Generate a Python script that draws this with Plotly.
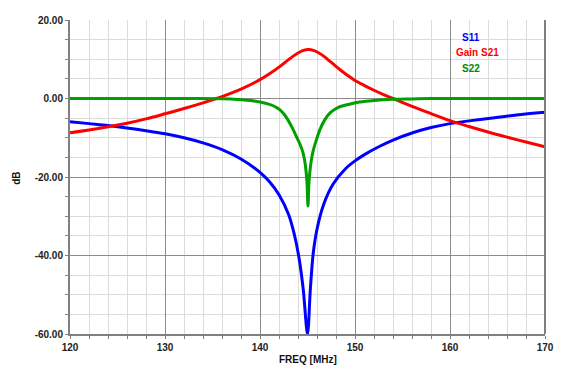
import plotly.graph_objects as go

# ---- data ----
freq_s11 = [120, 122, 124, 126, 128, 130, 132, 134, 136, 138, 140, 141, 142, 143, 143.6,
            144.1, 144.55, 145.0, 145.3, 145.6, 146.0, 146.7, 147.7, 149, 150, 151, 152.5,
            154, 156, 158, 160, 162, 164.7, 167, 170]
s11 = [-5.9, -6.4, -6.9, -7.5, -8.2, -9.0, -10.0, -11.3, -13.0, -15.4, -18.8, -21.2, -24.5,
       -29.5, -34.5, -40.5, -48.6, -60.0, -48.6, -39.5, -33.3, -27.0, -21.8, -17.9, -15.9,
       -14.3, -12.3, -10.6, -8.8, -7.4, -6.4, -5.7, -4.9, -4.2, -3.5]

freq_s21 = [120, 122, 124, 126, 128, 130, 132, 134, 135.4, 136, 138, 140, 141, 142, 143,
            143.5, 144, 144.5, 145.1, 145.7, 146.2, 146.7, 147.2, 147.7, 148.5, 149.2, 150,
            151, 152, 153, 154, 156, 158, 160, 162, 164, 166, 168, 170]
s21 = [-8.7, -8.0, -7.2, -6.3, -5.2, -3.9, -2.55, -1.1, 0.0, 0.5, 2.4, 4.8, 6.3, 8.0, 9.9,
       10.8, 11.6, 12.2, 12.5, 12.2, 11.6, 10.8, 9.8, 8.8, 7.2, 5.9, 4.6,
       3.3, 2.1, 1.0, 0.0, -2.0, -3.85, -5.65, -7.15, -8.55, -9.85, -11.1, -12.3]

freq_s22 = [120, 126, 132, 136, 138, 139, 140, 141, 141.6, 142.1, 142.6, 143.0, 143.4,
            143.8, 144.2, 144.5, 144.7, 144.85, 144.95, 145.05, 145.15, 145.25, 145.4,
            145.6, 145.9, 146.3, 146.8, 147.4, 148.3, 149.5, 150.5, 152, 154, 156, 158,
            164, 170]
s22 = [0, 0, 0, -0.05, -0.3, -0.5, -0.9, -1.5, -2.1, -2.9, -4.2, -5.7, -7.5,
       -9.5, -11.6, -13.6, -15.8, -18.6, -21.5, -27.4, -21.5, -18.6, -15.8,
       -13.3, -10.8, -8.0, -5.5, -3.6, -2.2, -1.4, -0.9, -0.5, -0.2, -0.1, 0,
       0, 0]

series_names = ["S11", "Gain S21", "S22"]
series_colors = ["#0000ff", "#ff0000", "#00a000"]
label_colors = ["#0000ff", "#ff0000", "#008a00"]

x_tickvals = [120, 130, 140, 150, 160, 170]
x_ticktext = ["120", "130", "140", "150", "160", "170"]
y_tickvals = [-60, -40, -20, 0, 20]
y_ticktext = ["-60.00", "-40.00", "-20.00", "0.00", "20.00"]

FONT = "Liberation Sans"
PAGE_OFFSET = 8  # default body margin of the html page

fig = go.Figure()
for fx, fy, name, col in zip([freq_s11, freq_s21, freq_s22], [s11, s21, s22],
                             series_names, series_colors):
    fig.add_trace(go.Scatter(x=fx, y=fy, mode="lines", name=name,
                             line=dict(color=col, width=3, shape="spline", smoothing=0.9)))

axis_font = dict(family=FONT, size=10, color="#222222", weight="bold")

fig.update_layout(
    width=564 - 2 * PAGE_OFFSET, height=379 - 2 * PAGE_OFFSET,
    margin=dict(l=70 - PAGE_OFFSET, r=19 - PAGE_OFFSET, t=20 - PAGE_OFFSET,
                b=45 - PAGE_OFFSET, pad=0, autoexpand=False),
    paper_bgcolor="#ffffff", plot_bgcolor="#ffffff",
    showlegend=False,
    xaxis=dict(
        range=[120, 170], tickvals=x_tickvals, ticktext=x_ticktext,
        showgrid=True, gridcolor="#8c8c8c", gridwidth=1, automargin=False,
        minor=dict(dtick=2, tick0=120, showgrid=True, gridcolor="#dcdcdc",
                   ticks="outside", ticklen=3, tickcolor="#808080"),
        ticks="outside", ticklen=3, tickcolor="#808080",
        showline=True, linecolor="#808080", linewidth=2,
        zeroline=False, tickfont=axis_font,
    ),
    yaxis=dict(
        range=[-60, 20], tickvals=y_tickvals, ticktext=y_ticktext,
        showgrid=True, gridcolor="#8c8c8c", gridwidth=1, automargin=False,
        minor=dict(dtick=5, tick0=0, showgrid=True, gridcolor="#dcdcdc",
                   ticks="outside", ticklen=3, tickcolor="#808080"),
        ticks="outside", ticklen=3, tickcolor="#808080",
        showline=True, linecolor="#808080", linewidth=2,
        zeroline=False, tickfont=axis_font,
    ),
)

# right border
fig.add_shape(type="line", xref="paper", yref="paper", x0=1, x1=1, y0=0, y1=1,
              line=dict(color="#808080", width=2))

# axis titles
fig.add_annotation(text="FREQ [MHz]", xref="paper", yref="paper", x=0.5, y=-0.08,
                   xanchor="center", yanchor="middle", showarrow=False,
                   font=dict(family=FONT, size=10, color="#111111", weight="bold"))
fig.add_annotation(text="dB", xref="paper", yref="paper", x=-0.112, y=0.497,
                   xanchor="center", yanchor="middle", showarrow=False, textangle=-90,
                   font=dict(family=FONT, size=10, color="#111111", weight="bold"))

# series labels
label_pos = [(0.845, 0.943), (0.857, 0.895), (0.845, 0.847)]
for name, col, (px, py) in zip(series_names, label_colors, label_pos):
    fig.add_annotation(text=name, xref="paper", yref="paper", x=px, y=py,
                       xanchor="center", yanchor="middle", showarrow=False,
                       font=dict(family=FONT, size=10, color=col, weight="bold"))

fig.write_html("out.html")
